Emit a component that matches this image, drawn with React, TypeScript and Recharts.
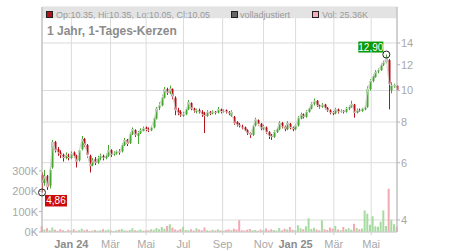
import {
  ComposedChart, Bar, Line, XAxis, YAxis, CartesianGrid, ReferenceArea, ReferenceDot, Cell,
} from 'recharts'

const FONT = "'Liberation Sans', Arial, sans-serif"
const GREEN = '#45a82f'
const RED = '#b3121a'
const VOL_GREEN = '#a6dba0'
const VOL_RED = '#f3a9b1'

// one candle per 3 trading days
const opens = [
  5.5, 5.2, 5.45, 5.1, 5.8, 6.95, 6.6, 6.45, 6.35, 6.2,
  6.3, 6.2, 6.45, 6.3, 6.1, 6.6, 7.1, 6.8, 6.3, 5.9,
  6.15, 6.0, 6.2, 6.3, 6.2, 6.3, 6.55, 6.35, 6.4, 6.5,
  6.5, 6.8, 7.05, 6.9, 7.35, 7.55, 7.25, 7.4, 7.5, 7.7,
  7.6, 7.55, 7.7, 8.2, 8.85, 9.0, 9.5, 10.1, 9.8, 10.1,
  9.5, 8.7, 8.6, 8.35, 8.45, 8.75, 9.15, 8.8, 8.6, 8.7,
  8.6, 8.5, 8.35, 8.6, 8.5, 8.6, 8.55, 8.75, 8.6, 8.7,
  8.6, 8.35, 8.3, 8.0, 7.85, 7.75, 7.7, 7.55, 7.4, 7.3,
  7.8, 8.1, 7.9, 7.6, 7.7, 7.45, 7.25, 7.2, 7.45, 7.6,
  7.95, 7.75, 7.6, 7.9, 7.7, 7.6, 7.8, 8.2, 8.45, 8.3,
  8.6, 8.8, 9.1, 9.3, 9.0, 8.9, 9.05, 8.85, 8.7, 8.55,
  8.5, 8.75, 8.6, 8.65, 8.6, 8.8, 8.9, 9.05, 8.55, 8.7,
  8.65, 8.75, 8.9, 10.1, 10.7, 11.0, 11.45, 11.55, 12.0, 12.2,
  12.4, 10.0, 10.3, 10.35,
]
const highs = [
  5.6, 5.7, 5.5, 5.8, 7.05, 7.0, 6.7, 6.55, 6.4, 6.45,
  6.4, 6.5, 6.5, 6.35, 6.6, 7.25, 7.15, 6.85, 6.35, 6.2,
  6.25, 6.3, 6.4, 6.35, 6.4, 6.8, 6.6, 6.5, 6.55, 6.6,
  6.9, 7.15, 7.1, 7.45, 7.7, 7.6, 7.5, 7.65, 7.75, 7.75,
  7.7, 7.8, 8.3, 8.9, 9.2, 9.7, 10.25, 10.2, 10.35, 10.15,
  9.6, 8.85, 8.7, 8.6, 8.85, 9.35, 9.2, 8.85, 8.8, 8.8,
  8.7, 8.6, 8.7, 8.65, 8.7, 8.65, 8.9, 8.8, 8.75, 8.75,
  8.65, 8.7, 8.35, 8.05, 7.95, 7.85, 7.75, 7.6, 7.45, 7.85,
  8.25, 8.15, 7.95, 7.85, 7.75, 7.5, 7.35, 7.55, 7.7, 8.05,
  8.0, 7.8, 8.05, 7.95, 7.75, 7.9, 8.35, 8.55, 8.5, 8.7,
  8.9, 9.2, 9.45, 9.35, 9.05, 9.15, 9.1, 8.9, 8.75, 8.65,
  8.85, 8.8, 8.75, 8.7, 8.9, 9.0, 9.3, 9.1, 8.8, 8.8,
  8.85, 8.95, 10.3, 10.85, 11.2, 11.55, 11.7, 12.1, 12.35, 12.9,
  12.5, 10.6, 10.5, 10.35,
]
const lows = [
  4.86, 5.1, 4.95, 5.0, 5.75, 6.45, 6.3, 6.2, 6.05, 6.15,
  6.1, 6.15, 6.2, 5.8, 6.05, 6.55, 6.7, 6.2, 5.6, 5.85,
  5.9, 5.95, 6.1, 6.1, 6.15, 6.25, 6.25, 6.3, 6.35, 6.35,
  6.45, 6.75, 6.75, 6.85, 7.3, 7.2, 6.85, 7.35, 7.5, 7.5,
  7.45, 7.5, 7.65, 8.15, 8.7, 8.95, 9.45, 9.7, 9.75, 9.4,
  8.4, 8.4, 8.3, 8.3, 8.4, 8.7, 8.7, 8.55, 8.5, 8.5,
  8.3, 7.4, 8.3, 8.4, 8.45, 8.45, 8.5, 8.5, 8.55, 8.5,
  8.4, 8.3, 7.85, 7.75, 7.7, 7.6, 7.5, 7.3, 7.15, 7.25,
  7.75, 7.8, 7.55, 7.55, 7.35, 7.1, 7.05, 7.15, 7.4, 7.55,
  7.65, 7.5, 7.55, 7.6, 7.5, 7.55, 7.75, 8.15, 8.2, 8.25,
  8.55, 8.75, 9.0, 8.9, 8.8, 8.85, 8.75, 8.6, 8.45, 8.4,
  8.45, 8.5, 8.55, 8.5, 8.55, 8.7, 8.85, 8.25, 8.5, 8.6,
  8.6, 8.7, 8.85, 10.0, 10.6, 10.95, 11.3, 11.5, 11.9, 12.1,
  8.75, 9.8, 10.2, 10.05,
]
const closes = [
  5.2, 5.45, 5.05, 5.7, 6.95, 6.55, 6.45, 6.35, 6.2, 6.35,
  6.2, 6.4, 6.3, 6.05, 6.55, 7.1, 6.8, 6.35, 5.85, 6.1,
  6.0, 6.2, 6.3, 6.2, 6.3, 6.55, 6.35, 6.4, 6.5, 6.45,
  6.8, 7.05, 6.85, 7.35, 7.6, 7.3, 7.4, 7.55, 7.65, 7.6,
  7.55, 7.7, 8.2, 8.8, 9.0, 9.5, 10.1, 9.85, 10.15, 9.6,
  8.7, 8.55, 8.4, 8.45, 8.75, 9.2, 8.8, 8.65, 8.7, 8.6,
  8.45, 8.35, 8.6, 8.5, 8.6, 8.55, 8.75, 8.6, 8.65, 8.6,
  8.5, 8.6, 7.95, 7.85, 7.8, 7.7, 7.55, 7.4, 7.3, 7.75,
  8.15, 7.9, 7.65, 7.75, 7.45, 7.25, 7.2, 7.45, 7.6, 7.95,
  7.75, 7.6, 7.95, 7.7, 7.6, 7.8, 8.25, 8.45, 8.3, 8.6,
  8.8, 9.1, 9.3, 9.0, 8.9, 9.05, 8.85, 8.7, 8.55, 8.5,
  8.75, 8.6, 8.65, 8.6, 8.8, 8.9, 9.1, 8.55, 8.7, 8.65,
  8.8, 8.85, 10.1, 10.7, 11.05, 11.4, 11.55, 11.95, 12.2, 12.6,
  10.5, 10.35, 10.4, 10.05,
]
// volume in thousands
const volumes = [
  28, 12, 18, 9, 22, 11, 6, 14, 8, 5,
  11, 7, 13, 6, 9, 16, 8, 12, 5, 7,
  10, 6, 9, 14, 8, 12, 7, 5, 9, 11,
  15, 8, 6, 10, 18, 9, 7, 12, 6, 9,
  8, 14, 11, 20, 13, 24, 16, 30, 38, 22,
  12, 9, 15, 26, 10, 8, 13, 7, 18, 12,
  9, 22, 8, 6, 11, 7, 14, 9, 6, 10,
  13, 8, 16, 12, 58, 9, 7, 11, 15, 8,
  10, 6, 12, 9, 17, 8, 14, 10, 7, 20,
  9, 16, 12, 24, 11, 8, 33, 19, 13, 28,
  68, 15, 21, 12, 9, 58, 14, 10, 22, 16,
  30, 12, 9, 25, 14, 18, 11, 40, 20, 13,
  17, 106, 90, 35, 77, 28, 26, 50, 106, 30,
  212, 60, 38, 25.36,
]

const monthTicks = [33, 77, 117, 159, 203, 249, 285, 328, 370]
const monthLabels = ['Jan 24', 'Mär', 'Mai', 'Jul', 'Sep', 'Nov', 'Jan 25', 'Mär', 'Mai']
const priceTicks = [4, 6, 8, 10, 12, 14]
const volumeTicks = [0, 100000, 200000, 300000]

const data = closes.map((c, i) => ({
  t: i * 3,
  o: opens[i],
  h: highs[i],
  l: lows[i],
  c,
  vol: volumes[i] * 1000,
}))

function Candle(props: any) {
  const { x, y, width, height, payload } = props
  const { o, h, l, c } = payload
  const cx = Math.round(x + width / 2) + 0.5
  const top = Math.min(y, y + height)
  const span = Math.abs(height)
  const lh = Math.log(h)
  const ll = Math.log(l)
  const py = (v: number) => (lh === ll ? top : top + (span * (lh - Math.log(v))) / (lh - ll))
  const color = c >= o ? GREEN : RED
  const bt = py(Math.max(o, c))
  const bb = py(Math.min(o, c))
  return (
    <g>
      <line x1={cx} x2={cx} y1={top} y2={top + Math.max(span, 1)} stroke={color} strokeWidth={1} />
      <rect x={cx - 1} y={bt} width={2} height={Math.max(1, bb - bt)} fill={color} />
    </g>
  )
}

function MonthTick(props: any) {
  const { x, y, payload } = props
  const label = monthLabels[payload.index] ?? ''
  const bold = label.startsWith('Jan')
  return (
    <text x={x} y={y + 11} textAnchor="middle" fontSize={11} fontFamily={FONT}
      fontWeight={bold ? 'bold' : 'normal'} fill={bold ? '#8c8c8c' : '#a8a8a8'}>
      {label}
    </text>
  )
}

function HighMark(props: any) {
  const { cx, cy } = props
  return (
    <g>
      <rect x={cx - 28} y={cy - 13} width={25} height={11} fill="#0a9a0a" />
      <text x={cx - 15.5} y={cy - 4} textAnchor="middle" fontSize={10} fontFamily={FONT} fill="#fff">12,90</text>
      <circle cx={cx} cy={cy} r={3.5} fill="none" stroke="#222" strokeWidth={1} />
    </g>
  )
}

function LowMark(props: any) {
  const { cx, cy } = props
  return (
    <g>
      <rect x={cx + 3} y={cy + 2.5} width={22} height={11.5} fill="#cc0a0a" />
      <text x={cx + 14} y={cy + 12} textAnchor="middle" fontSize={10} fontFamily={FONT} fill="#fff">4,86</text>
      <circle cx={cx} cy={cy} r={3.5} fill="none" stroke="#222" strokeWidth={1} />
    </g>
  )
}

export default function App() {
  return (
    <div style={{ position: 'absolute', left: 0, top: 0, width: 450, height: 250, background: '#fff' }}>
      <ComposedChart width={450} height={250} data={data}
        margin={{ top: 7, right: 0, bottom: 0, left: 0 }}>
        <CartesianGrid xAxisId="price" yAxisId="price" stroke="#dcdcdc" />
        <ReferenceArea xAxisId="price" yAxisId="price" x1={0} x2={399} y1={16.68} y2={18.06}
          fill="#e3e3e3" fillOpacity={1} stroke="none" />
        <XAxis xAxisId="price" dataKey="t" type="number" domain={[0, 399]} ticks={monthTicks}
          tick={<MonthTick />} height={18} stroke="#cfcfcf" tickSize={3} interval={0} />
        <XAxis xAxisId="vol" dataKey="t" type="number" domain={[0, 399]} hide />
        <YAxis yAxisId="vol" orientation="left" domain={[0, 1105000]} ticks={volumeTicks}
          tickFormatter={(v: number) => `${v / 1000}K`} width={42} stroke="#b5b5b5"
          tick={{ fontSize: 11, fill: '#a8a8a8', fontFamily: FONT }} tickSize={3} tickMargin={1}
          allowDataOverflow />
        <YAxis yAxisId="price" orientation="right" scale="log" domain={[3.674, 18.06]}
          ticks={priceTicks} width={53} stroke="#b5b5b5" allowDataOverflow
          tick={{ fontSize: 11, fill: '#a8a8a8', fontFamily: FONT }} tickSize={3} tickMargin={1} />
        <Bar xAxisId="vol" yAxisId="vol" dataKey="vol" barSize={2} isAnimationActive={false}>
          {data.map((d, i) => (
            <Cell key={i} fill={d.c >= d.o ? VOL_GREEN : VOL_RED} />
          ))}
        </Bar>
        <Line xAxisId="price" yAxisId="price" dataKey="c" stroke="#d6d6d6" strokeWidth={1}
          dot={false} isAnimationActive={false} />
        <Bar xAxisId="price" yAxisId="price" dataKey={(d: any) => [d.l, d.h]} barSize={2}
          shape={<Candle />} isAnimationActive={false} />
        <ReferenceDot xAxisId="price" yAxisId="price" x={387} y={12.9} shape={<HighMark />} />
        <ReferenceDot xAxisId="price" yAxisId="price" x={0} y={4.86} shape={<LowMark />} />
      </ComposedChart>
      <svg width={450} height={250} style={{ position: 'absolute', left: 0, top: 0, pointerEvents: 'none' }}>
        <rect x={46.5} y={11.5} width={6} height={6} fill="#b3121a" stroke="#222" />
        <text x={56} y={17.5} fontSize={9} fontFamily={FONT} fill="#9a9a9a">Op:10.35, Hi:10.35, Lo:10.05, Cl:10.05</text>
        <rect x={231.5} y={11.5} width={6} height={6} fill="#666" stroke="#222" />
        <text x={240} y={17.5} fontSize={9} fontFamily={FONT} fill="#9a9a9a">volladjustiert</text>
        <rect x={312.5} y={11.5} width={6} height={6} fill="#f4b0b8" stroke="#222" />
        <text x={322} y={17.5} fontSize={9} fontFamily={FONT} fill="#9a9a9a">Vol: 25.36K</text>
        <text x={47} y={34.5} fontSize={12} fontWeight="bold" fontFamily={FONT} fill="#8c8c8c">1 Jahr, 1-Tages-Kerzen</text>
      </svg>
    </div>
  )
}
